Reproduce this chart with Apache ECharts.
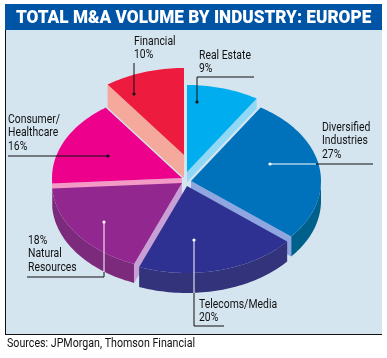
<!DOCTYPE html>
<html><head><meta charset="utf-8">
<style>html,body{margin:0;padding:0;background:#fff}#c{width:387px;height:358px}</style>
<script src="https://cdn.jsdelivr.net/npm/echarts@6/dist/echarts.min.js"></script>
</head><body><div id="c"></div>
<script>
// ---- data ----
var titleText = 'TOTAL M&A VOLUME BY INDUSTRY: EUROPE';
var sourceText = 'Sources: JPMorgan, Thomson Financial';
var industries = ['Real Estate', 'Diversified\nIndustries', 'Telecoms/Media', 'Natural\nResources', 'Consumer/\nHealthcare', 'Financial'];
var shares = [9, 27, 20, 18, 16, 10];

// ---- look of each slice (same order as industries) ----
var topColors  = ['#00aeef', '#0072bc', '#2e3192', '#92278f', '#ec008c', '#ed1c3f'];
var rimColors  = ['#5cc5ee', '#00608c', '#33337c', '#7b2a7c', '#c0107c', '#c8203c'];
var cutColors  = ['#90d8f6', '#8fa6e0', '#8fa6e0', '#c8a0d6', '#f49ac6', '#f5a99c'];
var sliceX     = [187, 191, 187, 182, 182, 184];
var sliceY     = [172, 181, 186, 183, 178, 155];
var sliceDepth = [10, 20, 20, 19, 8, 23];
var drawOrder  = [5, 0, 4, 1, 3, 2];
var radiusX = 130, radiusY = 87;

// ---- annotation layout ----
var labelText = [
  industries[0] + '\n' + shares[0] + '%',
  industries[1] + '\n' + shares[1] + '%',
  industries[2] + '\n' + shares[2] + '%',
  shares[3] + '%\n' + industries[3],
  industries[4] + '\n' + shares[4] + '%',
  industries[5] + '\n' + shares[5] + '%'
];
var labelPos = [[199, 49], [322, 121], [199, 298], [28, 234], [8, 113], [134, 35]];
var leaders = [
  {c: '#111', p: [[254,77],[197,77],[197,102]]},
  {c: '#fff', p: [[270,164],[316,164]]},
  {c: '#111', p: [[316,164],[373,164]]},
  {c: '#fff', p: [[194,240],[194,293]]},
  {c: '#111', p: [[194,293],[194,326],[224,326]]},
  {c: '#fff', p: [[104,222],[104,272]]},
  {c: '#111', p: [[104,272],[104,277],[27,277]]},
  {c: '#111', p: [[8,156],[108,156]]},
  {c: '#111', p: [[134,63],[134,94]]}
];
var dots = [[197,102,'#111'],[270,164,'#fff'],[194,240,'#fff'],[104,222,'#fff'],[108,156,'#111'],[134,94,'#111']];

var FONT = 'Roboto,sans-serif';
var total = shares.reduce(function (a, b) { return a + b; }, 0);
var starts = [];
shares.reduce(function (acc, v, i) { starts[i] = acc; return acc + v; }, 0);

function rim(i, deg, dy) {
  var a = deg * Math.PI / 180;
  return [sliceX[i] + radiusX * Math.sin(a), sliceY[i] - radiusY * Math.cos(a) + (dy || 0)];
}
function renderSlice(params, api) {
  var i = api.value(0);
  var from = api.value(1) / total * 360, to = (api.value(1) + api.value(2)) / total * 360;
  var depth = sliceDepth[i], kids = [], d, pts;
  var center = [sliceX[i], sliceY[i]];
  // outer rim
  var a0 = Math.max(from, 90), a1 = Math.min(to, 270);
  if (a1 > a0) {
    var up = [], down = [];
    for (d = a0; d < a1; d += 1.5) { up.push(rim(i, d)); down.unshift(rim(i, d, depth)); }
    up.push(rim(i, a1)); down.unshift(rim(i, a1, depth));
    kids.push({type: 'polygon', shape: {points: up.concat(down)}, style: {fill: rimColors[i]}});
  }
  // cut faces
  [[from, Math.sin(from * Math.PI / 180) < -1e-6], [to, Math.sin(to * Math.PI / 180) > 1e-6]].forEach(function (e) {
    if (!e[1]) return;
    kids.push({type: 'polygon', shape: {points: [center, rim(i, e[0]), rim(i, e[0], depth), [center[0], center[1] + depth]]}, style: {fill: cutColors[i]}});
  });
  // top
  pts = [center];
  for (d = from; d < to; d += 1.5) pts.push(rim(i, d));
  pts.push(rim(i, to));
  kids.push({type: 'polygon', shape: {points: pts}, style: {fill: topColors[i]}});
  return {type: 'group', children: kids};
}

var graphics = [
  {type: 'rect', z: 0, shape: {x: 5, y: 4, width: 377, height: 330}, style: {fill: '#d5e5f0'}},
  {type: 'rect', z: 1, shape: {x: 5, y: 4, width: 377, height: 26}, style: {fill: '#0054a6'}},
  {type: 'line', z: 1, shape: {x1: 5.5, y1: 30, x2: 5.5, y2: 334}, style: {stroke: '#111', lineWidth: 1}},
  {type: 'line', z: 1, shape: {x1: 5, y1: 334.5, x2: 382, y2: 334.5}, style: {stroke: '#111', lineWidth: 1}},
  {type: 'text', z: 10, x: 16, y: 9, scaleX: 0.955, style: {text: titleText, fill: '#fff', font: '900 18px ' + FONT}},
  {type: 'text', z: 10, x: 7, y: 337, scaleX: 0.82, style: {text: sourceText, fill: '#111', font: '13px ' + FONT}}
];
labelText.forEach(function (t, i) {
  graphics.push({type: 'text', z: 10, x: labelPos[i][0], y: labelPos[i][1], scaleX: 0.8, style: {text: t, fill: '#111', font: '13px ' + FONT, lineHeight: 13.3}});
});
leaders.forEach(function (l) {
  graphics.push({type: 'polyline', z: 9, shape: {points: l.p}, style: {stroke: l.c, fill: 'none', lineWidth: 1}});
});
dots.forEach(function (d) {
  graphics.push({type: 'circle', z: 9, shape: {cx: d[0], cy: d[1], r: 1.6}, style: {fill: d[2]}});
});

var chart = echarts.init(document.getElementById('c'), null, {renderer: 'canvas'});
chart.setOption({
  animation: false,
  backgroundColor: '#fff',
  graphic: {elements: graphics},
  series: [{
    type: 'custom',
    coordinateSystem: 'none',
    z: 5,
    renderItem: renderSlice,
    data: drawOrder.map(function (i) { return {name: industries[i], value: [i, starts[i], shares[i]]}; }),
    silent: true
  }]
});
</script></body></html>
